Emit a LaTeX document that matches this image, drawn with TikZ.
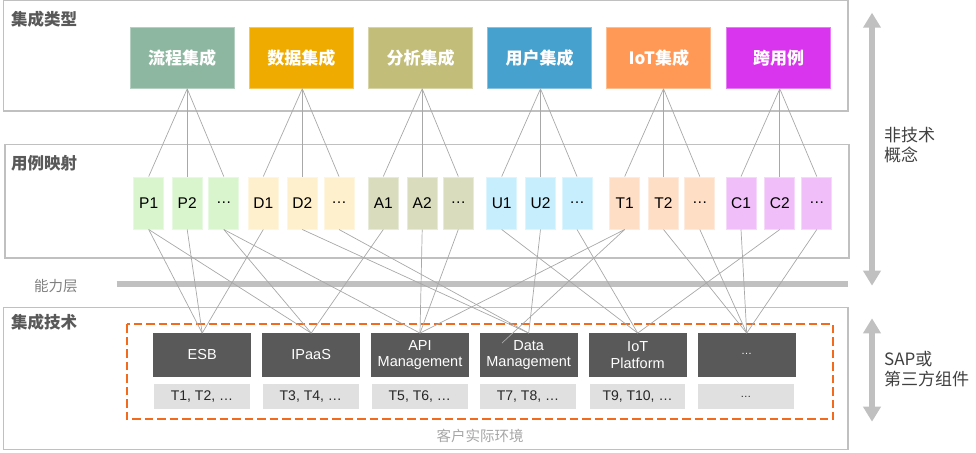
\documentclass[tikz,border=0pt]{standalone}
\usepackage{fontspec}
\setmainfont{Liberation Sans}
\newfontfamily\cjk{Noto Sans CJK SC}
\usetikzlibrary{arrows.meta}

\definecolor{panelc}{HTML}{C0C0C0}
\definecolor{connc}{HTML}{A8A8A8}
\definecolor{titlec}{HTML}{595959}
\definecolor{sidec}{HTML}{404040}
\definecolor{barc}{HTML}{C0C0C0}
\definecolor{envc}{HTML}{A6A6A6}
\definecolor{orangec}{HTML}{F26A1B}
\definecolor{darkc}{HTML}{595959}
\definecolor{lightc}{HTML}{E0E0E0}
\definecolor{kP}{HTML}{8DB7A0}
\definecolor{kD}{HTML}{F0AB00}
\definecolor{kA}{HTML}{C2BD78}
\definecolor{kU}{HTML}{47A1CE}
\definecolor{kT}{HTML}{FF9955}
\definecolor{kC}{HTML}{D935EE}
\definecolor{sP}{HTML}{D9F5CE}
\definecolor{sD}{HTML}{FFF0CD}
\definecolor{sA}{HTML}{D9DDBE}
\definecolor{sU}{HTML}{C6EEFC}
\definecolor{sT}{HTML}{FFDEC6}
\definecolor{sC}{HTML}{F0BEF8}

\begin{document}
\begin{tikzpicture}[x=1pt,y=-1pt,
  panelbox/.style={draw=panelc, line width=1.2pt},
  title/.style={anchor=west, inner sep=0, text=titlec, font=\cjk\bfseries\fontsize{16.5}{19}\selectfont},
  catbox/.style={minimum width=104pt, minimum height=61pt, inner sep=0, line width=1pt,
     text=white, font=\cjk\bfseries\fontsize{17}{19}\selectfont},
  ucbox/.style={minimum width=30pt, minimum height=52pt, inner sep=0, line width=1pt,
     text=black, font=\fontsize{15.5}{17}\selectfont},
  techbox/.style={fill=darkc, minimum width=97.7pt, minimum height=43.4pt, inner sep=0,
     text=white, align=center, font=\fontsize{14.5}{16.7}\selectfont},
  tagbox/.style={fill=lightc, minimum width=95.5pt, minimum height=25pt, inner sep=0,
     text=black!85, font=\fontsize{14}{16}\selectfont},
  conn/.style={draw=connc, line width=0.7pt},
  bigarrow/.style={draw=barc, line width=6pt,
     {Triangle[width=17pt,length=15pt]}-{Triangle[width=17pt,length=15pt]}},
  sidelabel/.style={anchor=west, inner sep=0, align=left, text=sidec,
     font=\cjk\fontsize{17}{20}\selectfont}
]
\useasboundingbox (0,0) rectangle (976,452);

% panels
\draw[panelbox] (3.5,0.8) rectangle (848,111);
\draw[panelbox] (5,144.3) rectangle (849,258);
\draw[panelbox] (3.5,307.3) rectangle (848,449.5);

% titles
\node[title] (t1) at (11,19) {集成类型};
\node[title] (t2) at (11,163.5) {用例映射};
\node[title] (t3) at (11,322) {集成技术};
\node[anchor=west, inner sep=0, text=black!50, font=\cjk\fontsize{14.5}{17}\selectfont] (cap) at (34,286) {能力层};

% capability bar
\coordinate (barL) at (116.5,284.3);
\coordinate (barR) at (848,284.3);
\draw[draw=barc, line width=6pt] (barL) -- (barR);

% category boxes
\node[catbox, fill=kP, draw=kP!65!white] (k1) at (182.2,57.8) {流程集成};
\node[catbox, fill=kD, draw=kD!65!white] (k2) at (301.3,57.8) {数据集成};
\node[catbox, fill=kA, draw=kA!65!white] (k3) at (420.5,57.8) {分析集成};
\node[catbox, fill=kU, draw=kU!65!white] (k4) at (539.7,57.8) {用户集成};
\node[catbox, fill=kT, draw=kT!65!white] (k5) at (658.8,57.8) {IoT集成};
\node[catbox, fill=kC, draw=kC!65!white] (k6) at (778.7,57.8) {跨用例};

% use case boxes
\node[ucbox, fill=sP, draw=sP!60!white] (p1) at (148.7,203) {P1};
\node[ucbox, fill=sP, draw=sP!60!white] (p2) at (187.2,203) {P2};
\node[ucbox, fill=sP, draw=sP!60!white] (p3) at (223.8,203) {\ldots};
\node[ucbox, fill=sD, draw=sD!60!white] (d1) at (263.3,203) {D1};
\node[ucbox, fill=sD, draw=sD!60!white] (d2) at (302.3,203) {D2};
\node[ucbox, fill=sD, draw=sD!60!white] (d3) at (339,203) {\ldots};
\node[ucbox, fill=sA, draw=sA!60!white] (a1) at (383.3,203) {A1};
\node[ucbox, fill=sA, draw=sA!60!white] (a2) at (422.2,203) {A2};
\node[ucbox, fill=sA, draw=sA!60!white] (a3) at (458.3,203) {\ldots};
\node[ucbox, fill=sU, draw=sU!60!white] (u1) at (501.7,203) {U1};
\node[ucbox, fill=sU, draw=sU!60!white] (u2) at (540.5,203) {U2};
\node[ucbox, fill=sU, draw=sU!60!white] (u3) at (577,203) {\ldots};
\node[ucbox, fill=sT, draw=sT!60!white] (r1) at (624.7,203) {T1};
\node[ucbox, fill=sT, draw=sT!60!white] (r2) at (663.5,203) {T2};
\node[ucbox, fill=sT, draw=sT!60!white] (r3) at (699.8,203) {\ldots};
\node[ucbox, fill=sC, draw=sC!60!white] (c1) at (741,203) {C1};
\node[ucbox, fill=sC, draw=sC!60!white] (c2) at (779.8,203) {C2};
\node[ucbox, fill=sC, draw=sC!60!white] (c3) at (816.8,203) {\ldots};

% environment frame
\draw[draw=orangec, line width=2.2pt, dash pattern=on 8.5pt off 4pt] (127,324.3) rectangle (833.3,419.3);

% technology boxes
\node[techbox] (e1) at (202.2,355) {ESB};
\node[techbox] (e2) at (311.2,355) {IPaaS};
\node[techbox] (e3) at (420,355) {API\\Management};
\node[techbox] (e4) at (528.7,355) {Data\\Management};
\node[techbox] (e5) at (637.7,355) {IoT\\Platform};
\node[techbox, font=\fontsize{11}{13}\selectfont] (e6) at (746.7,355) {\raisebox{3pt}{\ldots}};

\node[tagbox] (g1) at (202,396.5) {T1, T2, \ldots};
\node[tagbox] (g2) at (310.8,396.5) {T3, T4, \ldots};
\node[tagbox] (g3) at (419.8,396.5) {T5, T6, \ldots};
\node[tagbox] (g4) at (528,396.5) {T7, T8, \ldots};
\node[tagbox] (g5) at (637.5,396.5) {T9, T10, \ldots};
\node[tagbox, font=\fontsize{11}{13}\selectfont] (g6) at (745.8,396.5) {\ldots};

\node[inner sep=0, text=envc, font=\cjk\fontsize{14.5}{17}\selectfont] (env) at (480,436) {客户实际环境};

% top connections
\foreach \k/\a/\b/\c in {k1/p1/p2/p3, k2/d1/d2/d3, k3/a1/a2/a3, k4/u1/u2/u3, k5/r1/r2/r3, k6/c1/c2/c3}{
  \draw[conn] (\k.south -| \b.north) -- (\a.north);
  \draw[conn] (\k.south -| \b.north) -- (\b.north);
  \draw[conn] (\k.south -| \b.north) -- (\c.north);
}

% bottom connections
\foreach \s/\t in {p1/e1, p2/e1, d1/e1,
                   p1/e2, p3/e2, a1/e2,
                   p3/e3, a2/e3, a3/e3, r1/e3,
                   d2/e4, d3/e4, u2/e4,
                   u1/e5, u3/e5, c2/e5,
                   r2/e6, r3/e6, c1/e6, c3/e6}{
  \draw[conn] (\s.south) -- (\t.north);
}
\coordinate (r1end) at (502,343);
\draw[conn] (r1.south) -- (r1end);

% side arrows and labels
\coordinate (a1top) at (872,12.7);
\coordinate (a1bot) at (872,285.7);
\draw[bigarrow] (a1top) -- (a1bot);
\coordinate (a2top) at (872,318.3);
\coordinate (a2bot) at (872,421.7);
\draw[bigarrow] (a2top) -- (a2bot);

\node[sidelabel] (l1) at (884,145.5) {非技术\\概念};
\node[sidelabel] (l2) at (884,369.5) {SAP或\\第三方组件};
\end{tikzpicture}
\end{document}
